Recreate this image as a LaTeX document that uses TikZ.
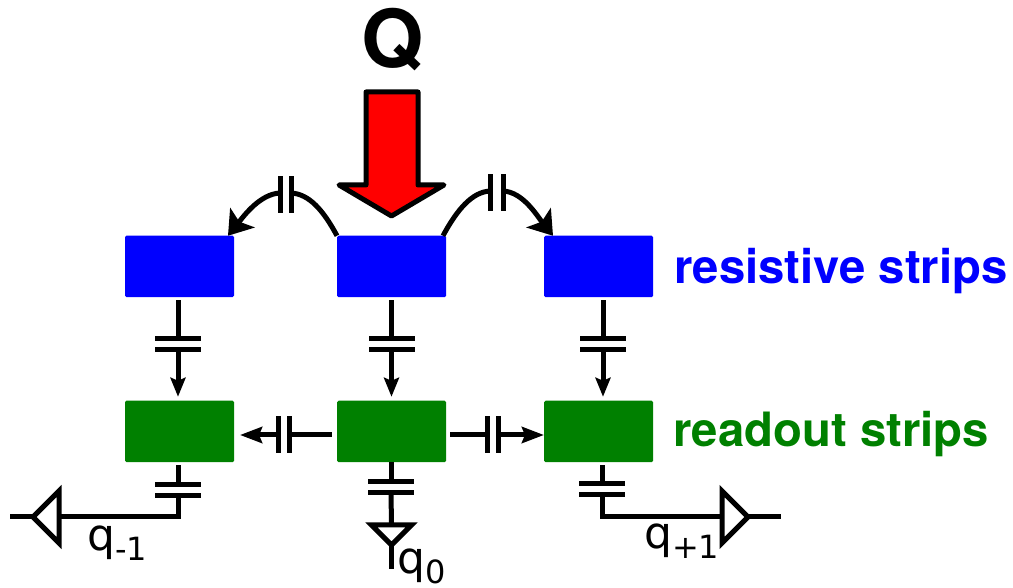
\documentclass[tikz,border=0pt]{standalone}
\usepackage{fontspec}
\setmainfont{TeX Gyre Heros}
\newfontfamily\qfont{DejaVu Sans}
\usetikzlibrary{shapes.geometric, arrows.meta, positioning}
\newcommand{\qlabel}[1]{{\qfont\fontsize{44}{44}\selectfont q\raisebox{-10pt}{\fontsize{32}{32}\selectfont #1}}}

\begin{document}
\begin{tikzpicture}[
  x=1pt, y=1pt,
  >=Stealth,
  strip/.style={rectangle, rounded corners=1.5pt, inner sep=0pt, outer sep=0pt,
    minimum width=109pt, minimum height=61.5pt},
  res/.style={strip, fill=blue},
  rdo/.style={strip, fill=green!50!black},
  hplate/.style={rectangle, fill=black, inner sep=0pt, outer sep=0pt,
    minimum width=46pt, minimum height=5pt},
  vplate/.style={rectangle, fill=black, inner sep=0pt, outer sep=0pt,
    minimum width=5pt, minimum height=37pt},
  amp/.style={isosceles triangle, isosceles triangle apex angle=90, draw=black,
    line width=5pt, inner sep=0pt, outer sep=0pt, minimum height=26pt, minimum width=52pt},
  wire/.style={line width=5pt, color=black},
  arr/.style={wire, -{Stealth[length=19pt,width=15pt,inset=3pt]}, shorten >=4pt},
  harr/.style={wire, -{Stealth[length=22pt,width=16pt,inset=3pt]}},
  bigarr/.style={wire, -{Stealth[length=23pt,width=31pt,inset=5pt]}},
  lbl/.style={font=\bfseries\fontsize{47.3}{47.3}\selectfont, inner sep=0pt},
]
\useasboundingbox (0,0) rectangle (1013,587);
%% Charge
\node[font=\bfseries\fontsize{80}{80}\selectfont, inner sep=0pt] (Q) at (392.5,547) {Q};
\draw[line width=5pt, line join=round, fill=red]
  (366,495) -- (418,495) -- (418,402) -- (444,402) -- (391.5,371) -- (339,402) -- (366,402) -- cycle;
%% Strips
\node[res] (RC) at (391.5,320.5) {};
\node[res, left=103pt of RC]  (RL) {};
\node[res, right=98pt of RC]  (RR) {};
\node[rdo, below=103.5pt of RC] (OC) {};
\node[rdo, below=103.5pt of RL] (OL) {};
\node[rdo, below=103.5pt of RR] (OR) {};
\node[lbl, text=blue, right=21pt of RR, yshift=-4.5pt] (Lres) {resistive strips};
\node[lbl, text=green!50!black, right=20pt of OR, yshift=-3pt] (Lrdo) {readout strips};
%% Vertical couplings
\foreach \s/\o/\dx in {RL/OL/-1.5, RC/OC/0, RR/OR/4.5} {
  \node[hplate, below=38.5pt of \s, xshift=\dx pt] (\s a) {};
  \node[hplate, below=6pt of \s a] (\s b) {};
  \draw[wire] (\s a.center) -- ([yshift=-3pt]\s a.center |- \s.south);
  \draw[arr] (\s b.center) -- (\s b.center |- \o.north);
}
%% Horizontal couplings
\node[vplate] (HLa) at (289.5,152) {};
\node[vplate] (HLb) at (278,152) {};
\node[vplate] (HRa) at (487,152) {};
\node[vplate] (HRb) at (498.5,152) {};
\draw[wire] (HLa.center) -- ([xshift=-5pt]HLa.center -| OC.west);
\draw[harr] (HLb.center) -- ([xshift=6pt]HLb.center -| OL.east);
\draw[wire] (HRa.center) -- ([xshift=4pt]HRa.center -| OC.east);
\draw[harr] (HRb.center) -- (HRb.center -| OR.west);
%% Couplings on top
\node[vplate] (TLa) at (291,392) {};
\node[vplate] (TLb) at (280,392) {};
\node[vplate] (TRa) at (490,394) {};
\node[vplate] (TRb) at (503,394) {};
\draw[wire] (RC.north west) .. controls +(-14,26) and +(18,-1) .. ([yshift=2pt]TLa.center);
\draw[bigarr] ([yshift=2pt]TLb.center) .. controls +(-20,-1) and +(16,20) .. ([xshift=-6pt]RL.north east);
\draw[wire] ([xshift=-3pt]RC.north east) .. controls +(14,26) and +(-18,-1) .. ([yshift=2pt]TRa.center);
\draw[bigarr] ([yshift=2pt]TRb.center) .. controls +(20,-1) and +(-16,20) .. ([xshift=9pt]RR.north west);
%% Outputs
\node[hplate] (BLa) at (178,102) {};
\node[hplate] (BLb) at (178,91) {};
\node[hplate] (BCa) at (391,105) {};
\node[hplate] (BCb) at (391,94.5) {};
\node[hplate] (BRa) at (602,103) {};
\node[hplate] (BRb) at (602,92) {};
\node[amp, shape border rotate=180, anchor=apex] (AL) at (33,70) {};
\node[amp, shape border rotate=270, anchor=apex, minimum height=20pt, minimum width=40pt] (AC) at (391.5,42) {};
\node[amp, anchor=apex] (AR) at (748,70) {};
\draw[wire] (BLa.center) -- ([yshift=-3pt]BLa.center |- OL.south);
\draw[wire] (BCa.center) -- (BCa.center |- OC.south);
\draw[wire] (BRa.center) -- ([yshift=-3pt]BRa.center |- OR.south);
\draw[wire] (BLb.center) |- (AL.east);
\draw[wire] (BCb.center) -- (AC.north);
\draw[wire] (BRb.center) |- (AR.west);
\coordinate (EL) at (10,70);
\coordinate (EC) at (391.5,18);
\coordinate (ER) at (781,70);
\draw[wire] (AL.apex) -- (EL);
\draw[wire] (AC.apex) -- (EC);
\draw[wire] (AR.apex) -- (ER);
%% Readout charges
\node[inner sep=0pt, anchor=base west] (QL) at (87,36.5) {\qlabel{-1}};
\node[inner sep=0pt, anchor=base west] (QC) at (397,14) {\qlabel{0}};
\node[inner sep=0pt, anchor=base west] (QR) at (644,38.5) {\qlabel{+1}};
\end{tikzpicture}
\end{document}
